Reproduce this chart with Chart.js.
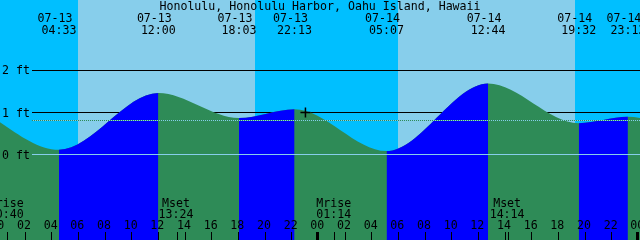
<!DOCTYPE html>
<html>
<head>
<meta charset="utf-8">
<script src="https://cdn.jsdelivr.net/npm/chart.js@4/dist/chart.umd.min.js"></script>
<style>
  html, body { margin: 0; padding: 0; background: #00bfff; }
  canvas { display: block; }
</style>
</head>
<body>
<canvas id="tide" width="640" height="240"></canvas>
<script>
// tide extremes (first and last lie just outside the window)
const tideDates = ['07-12', '07-13', '07-13', '07-13', '07-13', '07-14', '07-14', '07-14', '07-14', '07-15'];
const tideClock = ['22:12', '04:33', '12:00', '18:03', '22:13', '05:07', '12:44', '19:32', '23:13', '06:20'];
const tideFeet = [1.15, 0.12, 1.46, 0.87, 1.08, 0.09, 1.69, 0.75, 0.90, 0.08];

// sun and moon
const sunriseAt = ['07-13 05:58', '07-14 05:58'];
const sunsetAt = ['07-13 19:14', '07-14 19:14'];
const moonNames = ['Mrise', 'Mset', 'Mrise', 'Mset'];
const moonAt = ['07-13 00:40', '07-13 13:24', '07-14 01:14', '07-14 14:14'];

// axes
const hourTicks = [0, 2, 4, 6, 8, 10, 12, 14, 16, 18, 20, 22, 24, 26, 28, 30, 32, 34, 36, 38, 40, 42, 44, 46, 48];
const feetTicks = [0, 1, 2];
const feetLabels = ['0 ft', '1 ft', '2 ft'];
const meanFeet = 0.81;
const markAt = '07-13 23:02';
const markFeet = 1.0;

const title = 'Honolulu, Honolulu Harbor, Oahu Island, Hawaii';

const NIGHT = '#00bfff';
const DAY = '#87ceeb';
const RISING = '#0000ff';
const FALLING = '#2e8b57';
const FONT = '11.6px "DejaVu Sans Mono", monospace';

// hours since 07-13 00:00
function hoursOf(date, clock) {
    const day = parseInt(date.split('-')[1], 10) - 13;
    const [hh, mm] = clock.split(':').map(Number);
    return day * 24 + hh + mm / 60;
}
function hoursOfStamp(stamp) {
    const [d, c] = stamp.split(' ');
    return hoursOf(d, c);
}

const tidePoints = tideFeet.map((f, i) => ({ x: hoursOf(tideDates[i], tideClock[i]), y: f }));

function hLine(ctx, py, x1, x2) {
    ctx.beginPath();
    ctx.moveTo(x1, py);
    ctx.lineTo(x2, py);
    ctx.stroke();
}

const tideDecor = {
    id: 'tideDecor',
    beforeDraw(chart) {
        const { ctx, chartArea: a, scales: { x, y } } = chart;
        ctx.save();
        ctx.fillStyle = NIGHT;
        ctx.fillRect(a.left, a.top, a.width, a.height);
        ctx.fillStyle = DAY;
        sunriseAt.forEach((r, i) => {
            const x1 = Math.round(x.getPixelForValue(hoursOfStamp(r)));
            const x2 = Math.round(x.getPixelForValue(hoursOfStamp(sunsetAt[i])));
            ctx.fillRect(x1, a.top, x2 - x1, a.height);
        });
        // depth lines behind the water
        ctx.strokeStyle = '#000';
        ctx.lineWidth = 1;
        feetTicks.forEach(f => {
            hLine(ctx, Math.floor(y.getPixelForValue(f)) + 0.5, 32, a.right);
        });
        ctx.restore();
    },
    afterDatasetsDraw(chart) {
        const { ctx, chartArea: a, scales: { x, y } } = chart;
        ctx.save();
        ctx.lineWidth = 1;
        // datum line over the water
        ctx.strokeStyle = DAY;
        hLine(ctx, Math.floor(y.getPixelForValue(0)) + 0.5, 32, a.right);
        // mean level: stippled sky / green
        const pm = Math.floor(y.getPixelForValue(meanFeet)) + 0.5;
        hLine(ctx, pm, 32, a.right);
        ctx.strokeStyle = FALLING;
        ctx.setLineDash([1, 1]);
        hLine(ctx, pm, 32, a.right);
        ctx.setLineDash([]);

        ctx.fillStyle = '#000';
        ctx.font = FONT;
        ctx.textBaseline = 'alphabetic';

        // foot labels
        ctx.textAlign = 'left';
        feetTicks.forEach((f, i) => {
            ctx.fillText(feetLabels[i], 2, Math.round(y.getPixelForValue(f)) + 4);
        });

        // title
        ctx.textAlign = 'center';
        ctx.fillText(title, 320, 10);

        // tide event labels
        tidePoints.forEach((p, i) => {
            if (p.x < x.min || p.x > x.max) return;
            const px = x.getPixelForValue(p.x);
            ctx.fillText(tideDates[i], px - 4, 22);
            ctx.fillText(tideClock[i], px, 34);
        });

        // moon labels and ticks
        moonAt.forEach((m, i) => {
            const px = x.getPixelForValue(hoursOfStamp(m));
            ctx.fillText(moonNames[i], px - 1, 207);
            ctx.fillText(m.split(' ')[1], px - 1, 218);
            ctx.fillRect(Math.floor(px), 232, 1, 8);
        });

        // hour labels and ticks
        hourTicks.forEach(h => {
            const px = x.getPixelForValue(h);
            ctx.fillText(String(h % 24).padStart(2, '0'), px - 1, 229);
            if (h % 24 === 0) {
                ctx.fillRect(Math.round(px) - 2, 232, 3, 8);
            } else {
                ctx.fillRect(Math.floor(px), 232, 1, 8);
            }
        });
        ctx.restore();
    }
};

const chart = new Chart(document.getElementById('tide'), {
    type: 'line',
    data: {
        datasets: [{
            // the whole water body, falling colour
            label: 'Tide',
            data: tidePoints,
            cubicInterpolationMode: 'monotone',
            borderColor: 'rgba(0,0,0,0)',
            borderWidth: 0,
            pointRadius: 0,
            fill: 'start',
            backgroundColor: FALLING,
            order: 3
        }, {
            // rising stretches painted over it
            label: 'Rising',
            data: tidePoints,
            cubicInterpolationMode: 'monotone',
            borderColor: 'rgba(0,0,0,0)',
            borderWidth: 0,
            pointRadius: 0,
            fill: 'start',
            backgroundColor: 'rgba(0,0,0,0)',
            segment: {
                backgroundColor: c => c.p1.parsed.y > c.p0.parsed.y ? RISING : 'rgba(0,0,0,0)'
            },
            order: 2
        }, {
            type: 'scatter',
            label: 'Mark',
            data: [{ x: hoursOfStamp(markAt), y: markFeet }],
            pointStyle: 'cross',
            pointRadius: 5,
            borderColor: '#000',
            borderWidth: 1.5,
            order: 1
        }]
    },
    options: {
        responsive: false,
        devicePixelRatio: 1,
        animation: false,
        layout: { padding: 0, autoPadding: false },
        scales: {
            x: { type: 'linear', min: 0.125, max: 48.125, display: false },
            y: { type: 'linear', min: -2.01, max: 3.66, display: false }
        },
        plugins: {
            legend: { display: false },
            tooltip: { enabled: false }
        }
    },
    plugins: [tideDecor]
});
</script>
</body>
</html>
